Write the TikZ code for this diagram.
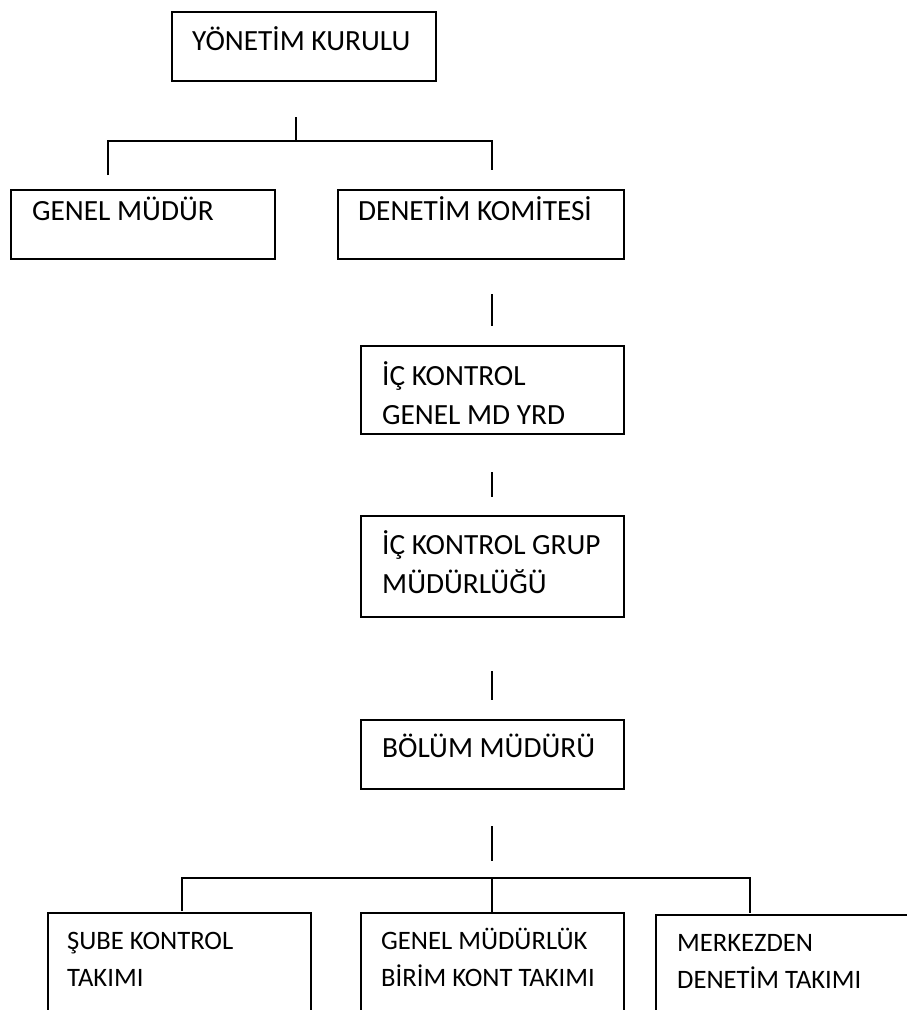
\documentclass[tikz,border=0pt]{standalone}
\usepackage{fontspec}
\setmainfont{Carlito}
\begin{document}
\begin{tikzpicture}[x=1pt,y=-1pt,
  box/.style={draw, line width=1.8pt, inner sep=0pt, anchor=north west},
  lbl/.style={anchor=base west, inner sep=0pt, align=left, font=\fontsize{29.3}{39}\selectfont},
  lblsmall/.style={lbl, font=\fontsize{26.6}{37}\selectfont},
  conn/.style={line width=1.8pt}]
\useasboundingbox (0,0) rectangle (907,1010);
\clip (0,0) rectangle (907,1010);
% boxes
\node[box, minimum width=264pt, minimum height=69pt] (yk) at (171,11) {};
\node[box, minimum width=264pt, minimum height=69pt] (gm) at (10,189) {};
\node[box, minimum width=286pt, minimum height=69pt] (dk) at (337,189) {};
\node[box, minimum width=263pt, minimum height=88pt] (ick) at (360,345) {};
\node[box, minimum width=263pt, minimum height=101pt] (icg) at (360,515) {};
\node[box, minimum width=263pt, minimum height=69pt] (bm) at (360,719) {};
\node[box, minimum width=263pt, minimum height=150pt] (sk) at (47,912) {};
\node[box, minimum width=263pt, minimum height=150pt] (gmb) at (360,912) {};
\node[box, minimum width=300pt, minimum height=150pt] (md) at (655,914) {};
% texts (base = last line)
\node[lbl] (tyk) at (192,50) {YÖNETİM KURULU};
\node[lbl] (tgm) at (32,220) {GENEL MÜDÜR};
\node[lbl] (tdk) at (358,220) {DENETİM KOMİTESİ};
\node[lbl] (tick) at (382,424) {İÇ KONTROL\\GENEL MD YRD};
\node[lbl] (ticg) at (382,593) {İÇ KONTROL GRUP\\MÜDÜRLÜĞÜ};
\node[lbl] (tbm) at (382,757) {BÖLÜM MÜDÜRÜ};
\node[lblsmall] (tsk) at (67,986) {ŞUBE KONTROL\\TAKIMI};
\node[lblsmall] (tgmb) at (381,986) {GENEL MÜDÜRLÜK\\BİRİM KONT TAKIMI};
\node[lblsmall] (tmd) at (677,988) {MERKEZDEN\\DENETİM TAKIMI};
% connector points
\coordinate (s1a) at (296,117);
\coordinate (s1b) at (296,141);
\coordinate (fl) at (108,141);
\coordinate (fl1) at (108,175);
\coordinate (fr) at (492,141);
\coordinate (fr1) at (492,170);
\coordinate (s2a) at (492,294);
\coordinate (s2b) at (492,326);
\coordinate (s3a) at (492,472);
\coordinate (s3b) at (492,497);
\coordinate (s4a) at (492,671);
\coordinate (s4b) at (492,700);
\coordinate (s5a) at (492,826);
\coordinate (s5b) at (492,861);
\coordinate (bl) at (182,878);
\coordinate (bl1) at (182,911);
\coordinate (br) at (750,878);
\coordinate (br1) at (750,913);
\coordinate (bmid) at (492,878);
\coordinate (bmid1) at (492,913);
% connectors
\draw[conn] (s1a) -- (s1b);
\draw[conn] (fl1) -- (fl) -- (fr) -- (fr1);
\draw[conn] (s2a) -- (s2b);
\draw[conn] (s3a) -- (s3b);
\draw[conn] (s4a) -- (s4b);
\draw[conn] (s5a) -- (s5b);
\draw[conn] (bl1) -- (bl) -- (br) -- (br1);
\draw[conn] (bmid) -- (bmid1);
\end{tikzpicture}
\end{document}
